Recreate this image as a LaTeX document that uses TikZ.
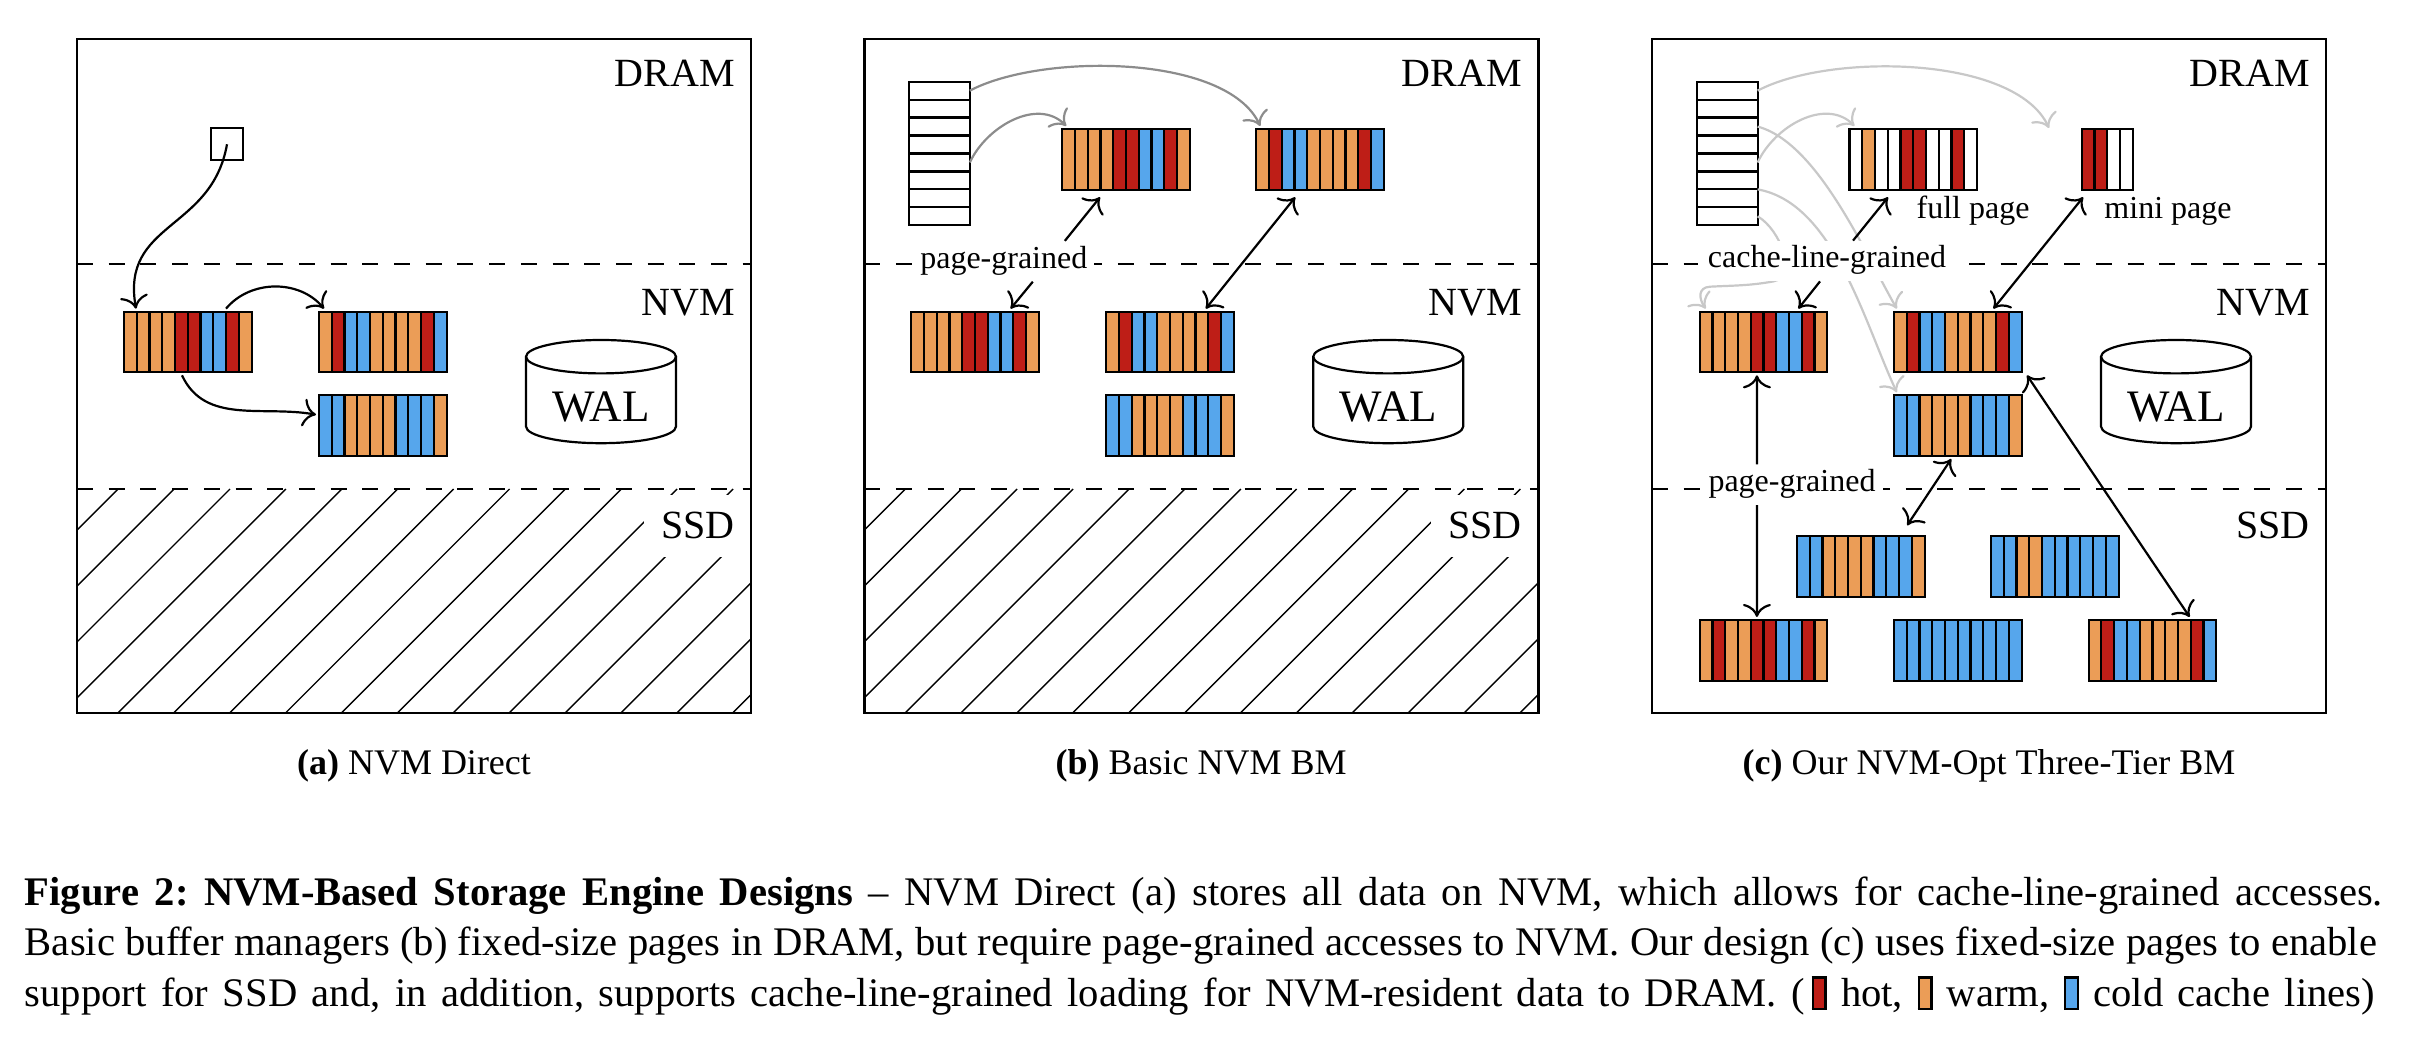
\documentclass[tikz,border=0pt]{standalone}
\usepackage{fontspec}
\setmainfont{Liberation Serif}
\usetikzlibrary{arrows.meta}

\definecolor{hot}{HTML}{BE1E17}
\definecolor{warm}{HTML}{EB9D57}
\definecolor{cold}{HTML}{56A6EC}
\definecolor{greyB}{HTML}{8C8C8C}
\definecolor{greyC}{HTML}{C8C8C8}

\tikzset{
  >={Computer Modern Rightarrow[length=6.5pt,width=14pt]},
  frameline/.style={line width=1.3pt},
  tierdash/.style={line width=1.3pt, dash pattern=on 8pt off 7.85pt},
  hatchline/.style={line width=.7pt},
  slotline/.style={line width=1.1pt},
  pagebox/.style={rectangle, inner sep=0pt, outer xsep=0pt, outer ysep=1.5pt, minimum height=30.35pt},
  tablerow/.style={draw, line width=1.1pt, rectangle, inner sep=0pt, outer sep=0pt, minimum width=30.3pt, minimum height=8.97pt},
  tierlabel/.style={fill=white, anchor=base east, font=\fontsize{20}{22}\selectfont, inner xsep=8.5pt, inner ysep=9pt, outer sep=0pt, text height=13pt, text depth=0pt},
  grainlabel/.style={fill=white, anchor=base, font=\fontsize{16}{19}\selectfont, inner xsep=3.5pt, inner ysep=.7pt, outer sep=0pt, text height=13pt, text depth=6pt},
  smalllabel/.style={anchor=base, font=\fontsize{16}{19}\selectfont},
  captionline/.style={anchor=base west, inner sep=0pt, font=\fontsize{20.3}{23}\selectfont\frenchspacing},
  subcaption/.style={anchor=base, inner sep=0pt, font=\fontsize{18}{21}\selectfont},
  linkarrow/.style={->, line width=1.1pt},
  bothlink/.style={<->, line width=1.1pt},
  greylink/.style={->, line width=1.1pt, draw=#1},
}

\newcommand{\cachepage}[5][10]{%
  \foreach \col [count=\i from 0] in {#5}
    \draw[slotline, fill=\col] ({#3+\i*12.76}, {#4-30.35}) rectangle +(12.76, 60.7);
  \node[pagebox, minimum width={#1*6.38pt}] (#2) at ({#3+#1*6.38}, #4) {};
}
\newcommand{\lookuptable}[1]{%
  \foreach \r in {1,...,8}
    \node[tablerow] (#1\r) at (75.3, {631.3-(\r-.5)*17.95}) {};
}
\newcommand{\hatchssd}{%
  \begin{scope}
    \clip (0,0) rectangle (674,224);
    \foreach \k in {-4,...,11}
      \draw[hatchline] ({40.8+\k*55.9}, 0) -- +(224,224);
  \end{scope}
}
\newcommand{\panelbase}[1]{%
  \node[tierlabel] (#1Dram) at (674.6, 626.3) {DRAM};
  \node[tierlabel] (#1Nvm) at (674.6, 397.3) {NVM};
  \node[tierlabel] (#1Ssd) at (674.6, 174) {SSD};
  \draw[frameline] (0,0) rectangle (674,674);
  \draw[tierdash] (0,449) -- (674,449);
  \draw[tierdash] (0,224) -- (674,224);
  \draw[slotline] (524,356.3) ellipse [x radius=75, y radius=16.7];
  \draw[slotline] (449,356.3) -- (449,286.5) arc [start angle=180, end angle=360, x radius=75, y radius=16.7] -- (599,356.3);
  \node[anchor=base, font=\fontsize{22.5}{26}\selectfont] (#1Wal) at (524, 291.3) {WAL};
}
\newcommand{\legendbox}[1]{\raisebox{-.6pt}{\fboxsep=0pt\fboxrule=1.2pt\fcolorbox{black}{#1}{\rule{0pt}{14.6pt}\hspace{5.1pt}}}}

\begin{document}
\begin{tikzpicture}[x=.5pt, y=.5pt]
  \useasboundingbox (0,0) rectangle (2412,1056);

  \begin{scope}[shift={(77,343)}]
    \hatchssd
    \panelbase{a}
    \node[draw, slotline, rectangle, inner sep=0pt, outer sep=0pt, minimum width=16.3pt, minimum height=16pt] (aRoot) at (150, 568.7) {};
    \cachepage{aN1}{47}{371}{warm,warm,warm,warm,hot,hot,cold,cold,hot,warm}
    \cachepage{aN2}{242}{371}{warm,hot,cold,cold,warm,warm,warm,warm,hot,cold}
    \cachepage{aN3}{242}{287.35}{cold,cold,warm,warm,warm,warm,cold,cold,cold,warm}
    \draw[linkarrow] (aRoot.center) to[out=-100, in=100, looseness=1.2] ([xshift=6pt]aN1.north west);
    \draw[linkarrow] ([xshift=51pt]aN1.north west) to[out=50, in=130] ([xshift=2.5pt]aN2.north west);
    \draw[linkarrow] ([xshift=29pt]aN1.south west) to[out=-65, in=170] ([xshift=-1.5pt, yshift=5.5pt]aN3.west);
    \node[subcaption] (aCap) at (337, -61.3) {\textbf{(a)} NVM Direct};
  \end{scope}

  \begin{scope}[shift={(864.2,343)}]
    \hatchssd
    \panelbase{b}
    \lookuptable{bT}
    \cachepage{bD1}{198}{553.7}{warm,warm,warm,warm,hot,hot,cold,cold,hot,warm}
    \cachepage{bD2}{392}{553.7}{warm,hot,cold,cold,warm,warm,warm,warm,hot,cold}
    \cachepage{bN1}{47}{371}{warm,warm,warm,warm,hot,hot,cold,cold,hot,warm}
    \cachepage{bN2}{242}{371}{warm,hot,cold,cold,warm,warm,warm,warm,hot,cold}
    \cachepage{bN3}{242}{287.35}{cold,cold,warm,warm,warm,warm,cold,cold,cold,warm}
    \draw[greylink=greyB] (bT5.east) to[out=65, in=135] ([xshift=2pt]bD1.north west);
    \draw[greylink=greyB] (bT1.east) to[out=28, in=115, looseness=.7] ([xshift=2pt]bD2.north west);
    \node[grainlabel] (bGrain) at (139.6, 444.7) {page-grained};
    \draw[linkarrow] ([xshift=30.5pt]bGrain.north) -- ([xshift=18.9pt, yshift=-2.3pt]bD1.south west);
    \draw[linkarrow] ([xshift=14.5pt]bGrain.south) -- ([xshift=49.7pt]bN1.north west);
    \draw[bothlink] ([xshift=19.5pt, yshift=-2.3pt]bD2.south west) -- ([xshift=49.8pt]bN2.north west);
    \node[subcaption] (bCap) at (337, -61.3) {\textbf{(b)} Basic NVM BM};
  \end{scope}

  \begin{scope}[shift={(1652,343)}]
    \panelbase{c}
    \lookuptable{cT}
    \cachepage{cF}{197.4}{553.7}{white,warm,white,white,hot,hot,white,white,hot,white}
    \cachepage[4]{cM}{429.7}{553.7}{hot,hot,white,white}
    \cachepage{cN1}{47.7}{371}{warm,warm,warm,warm,hot,hot,cold,cold,hot,warm}
    \cachepage{cN2}{242}{371}{warm,hot,cold,cold,warm,warm,warm,warm,hot,cold}
    \cachepage{cN3}{242}{287.35}{cold,cold,warm,warm,warm,warm,cold,cold,cold,warm}
    \cachepage{cS1}{145}{146.7}{cold,cold,warm,warm,warm,warm,cold,cold,cold,warm}
    \cachepage{cS2}{339}{146.7}{cold,cold,warm,warm,cold,cold,cold,cold,cold,cold}
    \cachepage{cS3}{47.7}{62.7}{warm,hot,warm,warm,hot,hot,cold,cold,hot,warm}
    \cachepage{cS4}{242}{62.7}{cold,cold,cold,cold,cold,cold,cold,cold,cold,cold}
    \cachepage{cS5}{436.6}{62.7}{warm,hot,cold,cold,warm,warm,warm,warm,hot,cold}
    \coordinate (cGhost) at (397, 585);
    \coordinate (cBend) at (121, 431.5);
    \coordinate (cCurl) at (58, 426.3);
    \draw[greylink=greyC] (cT1.east) to[out=28, in=115, looseness=.7] (cGhost);
    \draw[greylink=greyC] (cT5.east) to[out=65, in=135] ([xshift=2.5pt]cF.north west);
    \draw[greylink=greyC] (cT3.east) to[out=-15, in=120, looseness=.7] ([xshift=1.4pt]cN2.north west);
    \draw[greylink=greyC] (cT6.south east) to[out=-10, in=115, looseness=.8] ([xshift=1.4pt]cN3.north west);
    \draw[greylink=greyC] (cT8.east) to[out=-30, in=10] (cBend) to[out=190, in=3] (cCurl) to[out=183, in=125, looseness=1.4] ([xshift=3pt]cN1.north west);
    \node[grainlabel, inner xsep=5pt] (cCache) at (175, 445) {cache-line-grained};
    \node[grainlabel] (cPage) at (140, 221.3) {page-grained};
    \node[smalllabel] (cFullL) at (321, 494.7) {full page};
    \node[smalllabel] (cMiniL) at (516, 494.7) {mini page};
    \draw[linkarrow] ([xshift=13pt]cCache.north) -- ([xshift=19.3pt, yshift=-2.3pt]cF.south west);
    \draw[linkarrow] ([xshift=-3.5pt]cCache.south) -- ([xshift=49.3pt]cN1.north west);
    \draw[bothlink] ([xshift=.7pt, yshift=-2.3pt]cM.south west) -- ([xshift=49.7pt]cN2.north west);
    \draw[linkarrow] ([xshift=-17.5pt]cPage.north) -- ([xshift=28.6pt]cN1.south west);
    \draw[linkarrow] ([xshift=-17.5pt]cPage.south) -- ([xshift=28.6pt]cS3.north west);
    \draw[bothlink] ([xshift=28.6pt]cN3.south west) -- ([xshift=55.1pt, yshift=3.85pt]cS1.north west);
    \draw[bothlink] ([xshift=66.5pt]cN2.south west) -- ([xshift=50.5pt]cS5.north west);
    \node[subcaption] (cCap) at (337, -61.3) {\textbf{(c)} Our NVM-Opt Three-Tier BM};
  \end{scope}

  \node[captionline] (capOne) at (24.5, 151) {\makebox[1179pt][s]{\textbf{Figure 2: NVM-Based Storage Engine Designs} -- NVM Direct (a) stores all data on NVM, which allows for cache-line-grained accesses.}};
  \node[captionline] (capTwo) at (24.5, 100.3) {\makebox[1176pt][s]{Basic buffer managers (b) fixed-size pages in DRAM, but require page-grained accesses to NVM. Our design (c) uses fixed-size pages to enable}};
  \node[captionline] (capThree) at (24.5, 49.3) {\makebox[1175pt][s]{support for SSD and, in addition, supports cache-line-grained loading for NVM-resident data to DRAM. (\,\legendbox{hot} hot, \legendbox{warm} warm, \legendbox{cold} cold cache lines)}};
\end{tikzpicture}
\end{document}
